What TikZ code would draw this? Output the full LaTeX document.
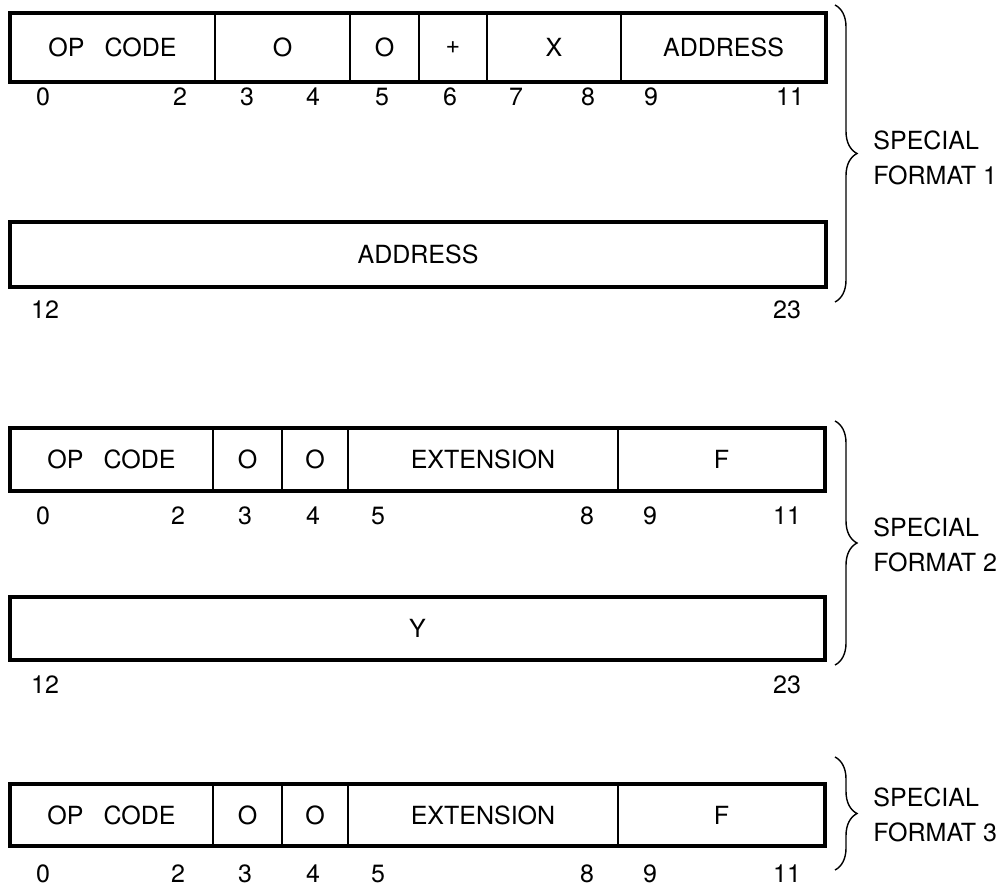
\documentclass[tikz,border=0pt]{standalone}
\usepackage{fontspec}
\setmainfont{TeX Gyre Heros}
\usetikzlibrary{calc, decorations.pathreplacing}

\tikzset{
  fieldline/.style={draw=black, line width=0.7pt},
  fieldtext/.style={font=\fontsize{12.5}{15}\selectfont, inner sep=0pt},
  bitnum/.style={font=\fontsize{12.5}{15}\selectfont, inner sep=0pt},
  wordframe/.style={draw=black, line width=1.6pt},
  fmtbrace/.style={decorate, decoration={brace, amplitude=11pt}, line width=0.7pt},
  fmtlabel/.style={font=\fontsize{12.5}{17.5}\selectfont, align=left, anchor=west, inner sep=0pt}
}

% one field of a word: name, left, right, top, bottom, text
\newcommand{\fieldbox}[6]{%
  \path (#2,#4) coordinate (#1-nw) (#3,#5) coordinate (#1-se);
  \draw[fieldline] (#1-nw) rectangle (#1-se);
  \node[fieldtext] (#1) at ($(#1-nw)!0.5!(#1-se)$) {#6};
}

\begin{document}
\begin{tikzpicture}[x=0.5pt, y=-0.5pt]
  \useasboundingbox (0,0) rectangle (1000,893);

  % special format 1, first word
  \fieldbox{opA}{10}{215}{13}{82}{OP\hspace{0.8em}CODE}
  \fieldbox{zA}{215}{350}{13}{82}{O}
  \fieldbox{zzA}{350}{419}{13}{82}{O}
  \fieldbox{plusA}{419}{487}{13}{82}{+}
  \fieldbox{xA}{487}{621}{13}{82}{X}
  \fieldbox{adrA}{621}{826}{13}{82}{ADDRESS}
  \draw[wordframe] (opA-nw) rectangle (adrA-se);
  \foreach \n/\x in {0/43, 2/180, 3/247, 4/313, 5/382, 6/450, 7/516, 8/588, 9/651, 11/790}
    \node[bitnum] (bA-\n) at (\x,97) {\n};

  % special format 1, second word
  \fieldbox{adrB}{10}{826}{222}{287}{ADDRESS}
  \draw[wordframe] (adrB-nw) rectangle (adrB-se);
  \node[bitnum] (bB-12) at (45,310) {12};
  \node[bitnum] (bB-23) at (787,310) {23};

  \coordinate (brAt) at (835,5);
  \coordinate (brAb) at (835,302);
  \draw[fmtbrace] (brAt) -- (brAb);
  \node[fmtlabel] (fmtA) at (873,158) {SPECIAL\\FORMAT 1};

  % special format 2
  \fieldbox{opC}{10}{213}{428}{491}{OP\hspace{0.8em}CODE}
  \fieldbox{zC}{213}{282}{428}{491}{O}
  \fieldbox{zzC}{282}{348}{428}{491}{O}
  \fieldbox{extC}{348}{618}{428}{491}{EXTENSION}
  \fieldbox{fC}{618}{825}{428}{491}{F}
  \draw[wordframe] (opC-nw) rectangle (fC-se);
  \foreach \n/\x in {0/43, 2/178, 3/245, 4/313, 5/378, 8/587, 9/650, 11/787}
    \node[bitnum] (bC-\n) at (\x,516) {\n};

  \fieldbox{yD}{10}{825}{597}{660}{Y}
  \draw[wordframe] (yD-nw) rectangle (yD-se);
  \node[bitnum] (bD-12) at (45,685) {12};
  \node[bitnum] (bD-23) at (787,685) {23};

  \coordinate (brCt) at (835,421);
  \coordinate (brCb) at (835,665);
  \draw[fmtbrace] (brCt) -- (brCb);
  \node[fmtlabel] (fmtC) at (873,545) {SPECIAL\\FORMAT 2};

  % special format 3
  \fieldbox{opE}{10}{213}{784}{846}{OP\hspace{0.8em}CODE}
  \fieldbox{zE}{213}{282}{784}{846}{O}
  \fieldbox{zzE}{282}{348}{784}{846}{O}
  \fieldbox{extE}{348}{618}{784}{846}{EXTENSION}
  \fieldbox{fE}{618}{825}{784}{846}{F}
  \draw[wordframe] (opE-nw) rectangle (fE-se);
  \foreach \n/\x in {0/43, 2/178, 3/245, 4/313, 5/378, 8/587, 9/650, 11/787}
    \node[bitnum] (bE-\n) at (\x,874) {\n};

  \coordinate (brEt) at (835,757);
  \coordinate (brEb) at (835,870);
  \draw[fmtbrace] (brEt) -- (brEb);
  \node[fmtlabel] (fmtE) at (873,815) {SPECIAL\\FORMAT 3};
\end{tikzpicture}
\end{document}
